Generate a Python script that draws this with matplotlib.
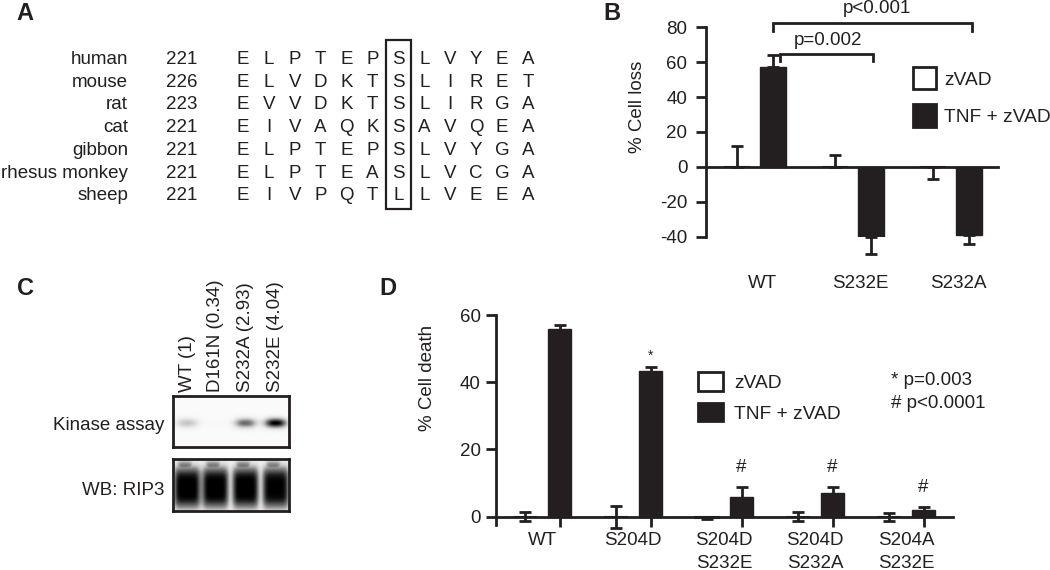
import numpy as np
import matplotlib
matplotlib.use('Agg')
import matplotlib.pyplot as plt
from matplotlib.patches import Rectangle

plt.rcParams['font.family'] = ['Liberation Sans', 'DejaVu Sans']
plt.rcParams['axes.unicode_minus'] = False

# ---------------- data ----------------
species = ['human', 'mouse', 'rat', 'cat', 'gibbon', 'rhesus monkey', 'sheep']
start_pos = [221, 226, 223, 221, 221, 221, 221]
sequences = ['ELPTEPSLVYEA', 'ELVDKTSLIRET', 'EVVDKTSLIRGA', 'EIVAQKSAVQEA',
             'ELPTEPSLVYGA', 'ELPTEASLVCGA', 'EIVPQTLLVEEA']
highlight_col = 6

b_groups = ['WT', 'S232E', 'S232A']
b_zvad = [0, 0, 0]
b_zvad_err_up = [12, 7, 0]
b_zvad_err_dn = [0, 0, 7]
b_tnf = [57.5, -40, -39.3]
b_tnf_err_up = [6.5, 0, 0]
b_tnf_err_dn = [0, 10, 4.7]
b_yticks = [-40, -20, 0, 20, 40, 60, 80]

lanes = ['WT (1)', 'D161N (0.34)', 'S232A (2.93)', 'S232E (4.04)']
kinase_signal = [0.30, 0.02, 0.62, 0.98]
rip3_signal = [0.92, 0.92, 0.92, 0.90]

d_groups = ['WT', 'S204D', 'S204D\nS232E', 'S204D\nS232A', 'S204A\nS232E']
d_zvad = [0, -0.2, -0.4, 0, -0.2]
d_zvad_err = [1.3, 3.3, 0.2, 1.4, 1.2]
d_tnf = [55.8, 43.4, 6.0, 7.0, 2.0]
d_tnf_err = [1.2, 1.1, 2.9, 1.9, 1.0]
d_marks = ['', '*', '#', '#', '#']
d_yticks = [0, 20, 40, 60]

INK = '#231f20'
FS = 13.5
W, H = 1050, 570
fig = plt.figure(figsize=(10.5, 5.7), dpi=100)


def fx(x):
    return x / W


def fy(y):
    return 1 - y / H


def T(x, yc, s, size=FS, ha='left', **kw):
    # place text so that cap-height centre sits at pixel yc
    base = yc + 0.36 * size * 100 / 72
    fig.text(fx(x), fy(base), s, ha=ha, va='baseline', fontsize=size, color=INK, **kw)


# panel letters
for lab, (x, y) in zip('ABCD', [(25, 11), (612, 11), (25, 287), (388, 287)]):
    T(x, y, lab, size=17, ha='center', fontweight='bold')

# ---------------- Panel A ----------------
row_y0, row_dy = 57.3, 22.7
col_x0, col_dx = 243, 25.9
for i, (sp, pos, seq) in enumerate(zip(species, start_pos, sequences)):
    y = row_y0 + i * row_dy
    T(128, y, sp, ha='right')
    T(166, y, str(pos))
    for j, ch in enumerate(seq):
        T(col_x0 + j * col_dx, y, ch, ha='center')
bx = col_x0 + highlight_col * col_dx
fig.patches.append(Rectangle((fx(bx - 12.5), fy(209)), 25 / W, 169 / H,
                             transform=fig.transFigure, fill=False,
                             edgecolor=INK, lw=1.6))

# ---------------- Panel B ----------------
axB = fig.add_axes([706 / W, 1 - 236.7 / H, 292 / W, 209.4 / H])
xb = np.arange(len(b_groups))
off, bw = 0.184, 0.265
axB.bar(xb - off, b_zvad, width=bw, color='white', edgecolor=INK, lw=1.5, zorder=2)
axB.bar(xb + off, b_tnf, width=bw, color=INK, edgecolor=INK, zorder=2)
for xs, v, dn, up in [(xb - off, b_zvad, b_zvad_err_dn, b_zvad_err_up),
                      (xb + off, b_tnf, b_tnf_err_dn, b_tnf_err_up)]:
    eb = axB.errorbar(xs, v, yerr=[dn, up], fmt='none', ecolor=INK,
                      elinewidth=2, capsize=4.3, capthick=2, zorder=3)
    for a in list(eb.lines[1]) + list(eb.lines[2]):
        a.set_clip_on(False)
axB.set_xlim(-0.5, 2.485)
axB.set_ylim(-40, 80)
axB.set_yticks(b_yticks)
axB.set_xticks([])
for s in ['top', 'right']:
    axB.spines[s].set_visible(False)
axB.spines['bottom'].set_position(('data', 0))
for s in ['bottom', 'left']:
    axB.spines[s].set_linewidth(2)
    axB.spines[s].set_color(INK)
axB.tick_params(axis='y', direction='out', length=7.5, width=2, pad=6,
                labelsize=FS, colors=INK)
axB.patch.set_visible(False)
for i, g in enumerate(b_groups):
    axB.text(i + 0.08, -0.225, g, transform=axB.get_xaxis_transform(),
             ha='center', va='center', fontsize=FS, color=INK)
T(637, 142, '% Cell loss', ha='center', rotation=90)
# brackets
brackets = [(0 + off + 0.07, 1 + off + 0.02, 64.7, 60.7, 'p=0.002', 0.745, 72.7),
            (0 + off, 2 + off + 0.04, 82.7, 78.0, 'p<0.001', 1.245, 90.8)]
for x0, x1, yt, yd, lab, tx, ty in brackets:
    axB.plot([x0, x0, x1, x1], [yd, yt, yt, yd], color=INK, lw=2,
             clip_on=False, solid_joinstyle='miter')
    axB.text(tx, ty, lab, ha='center', va='center', fontsize=FS, color=INK,
             clip_on=False)
# legend B
for (y0, y1, fc, lab) in [(67, 89, 'white', 'zVAD'), (104, 127, INK, 'TNF + zVAD')]:
    fig.patches.append(Rectangle((fx(913), fy(y1)), 23 / W, (y1 - y0) / H,
                                 transform=fig.transFigure, facecolor=fc,
                                 edgecolor=INK, lw=2))
    T(944, (y0 + y1) / 2, lab, size=13.8)

# ---------------- Panel C ----------------
lane_x = [187, 215, 245, 275]
for lx, lab in zip(lane_x, lanes):
    fig.text(fx(lx), fy(392), lab, rotation=90, ha='center', va='bottom',
             fontsize=FS, color=INK)
T(164, 423, 'Kinase assay', ha='right')
T(164, 488, 'WB: RIP3', ha='right')

xx = np.linspace(0, 1, 232)
yy = np.linspace(0, 1, 104)
X, Y = np.meshgrid(xx, yy)
lane_f = [(lx - 173) / 116 for lx in lane_x]

img_k = np.full_like(X, 0.04)
for lf, s in zip(lane_f, kinase_signal):
    img_k += s * np.exp(-(np.abs(X - lf) / 0.095) ** 2.5 - ((Y - 0.47) / 0.095) ** 2)
img_k = np.clip(img_k, 0, 1)
img_w = np.full_like(X, 0.10)
for lf, s in zip(lane_f, rip3_signal):
    core = np.exp(-(np.abs(X - lf) / 0.115) ** 6 - (np.abs(Y - 0.44) / 0.40) ** 4)
    top = 0.55 * np.exp(-(np.abs(X - lf + 0.02) / 0.07) ** 4 - (np.abs(Y - 0.86) / 0.1) ** 2)
    img_w += s * np.maximum(core, top)
img_w = np.clip(img_w, 0, 1)

for (y0, y1, img) in [(396, 447, img_k), (459, 511, img_w)]:
    ax = fig.add_axes([173 / W, 1 - y1 / H, 116 / W, (y1 - y0) / H])
    ax.imshow(img, cmap='Greys', vmin=0, vmax=1, origin='lower',
              extent=[0, 1, 0, 1], aspect='auto', interpolation='bilinear')
    ax.set_xticks([])
    ax.set_yticks([])
    for s in ax.spines.values():
        s.set_linewidth(2)
        s.set_color(INK)

# ---------------- Panel D ----------------
axD = fig.add_axes([496 / W, 1 - 525.1 / H, 456.7 / W, 210.1 / H])
xd = np.arange(len(d_groups))
doff, dbw = 0.19, 0.26
axD.bar(xd - doff, d_zvad, width=dbw, color='white', edgecolor=INK, lw=1.5, zorder=2)
axD.bar(xd + doff, d_tnf, width=dbw, color=INK, edgecolor=INK, zorder=2)
for xs, v, e in [(xd - doff, d_zvad, d_zvad_err), (xd + doff, d_tnf, d_tnf_err)]:
    eb = axD.errorbar(xs, v, yerr=e, fmt='none', ecolor=INK, elinewidth=2,
                      capsize=4.3, capthick=2, zorder=3)
    for a in list(eb.lines[1]) + list(eb.lines[2]):
        a.set_clip_on(False)
for i, m in enumerate(d_marks):
    if m:
        top = d_tnf[i] + d_tnf_err[i]
        if m == '*':
            axD.text(i + doff, top + 3.5, m, ha='center', va='center',
                     fontsize=10, color=INK)
        else:
            axD.text(i + doff, top + 5.6, m, ha='center', va='center',
                     fontsize=FS, color=INK)
axD.set_xlim(-0.509, 4.51)
axD.set_ylim(-2.5, 60)
axD.set_yticks(d_yticks)
axD.set_xticks(xd + doff)
axD.set_xticklabels([])
for s in ['top', 'right']:
    axD.spines[s].set_visible(False)
axD.spines['bottom'].set_position(('data', 0))
for s in ['bottom', 'left']:
    axD.spines[s].set_linewidth(2)
    axD.spines[s].set_color(INK)
axD.tick_params(direction='out', length=7, width=2, colors=INK, labelsize=FS)
axD.tick_params(axis='y', pad=4)
axD.patch.set_visible(False)
for i, g in enumerate(d_groups):
    axD.text(i, -0.035, g, transform=axD.get_xaxis_transform(), ha='center',
             va='top', fontsize=FS, color=INK, linespacing=1.4)
T(427, 420, '% Cell death', ha='center', rotation=90)
for (y0, y1, fc, lab) in [(372, 391, 'white', 'zVAD'), (403, 421, INK, 'TNF + zVAD')]:
    fig.patches.append(Rectangle((fx(698), fy(y1)), 25 / W, (y1 - y0) / H,
                                 transform=fig.transFigure, facecolor=fc,
                                 edgecolor=INK, lw=2))
    T(734, (y0 + y1) / 2, lab, size=13.8)
T(891, 378, '* p=0.003')
T(891, 401, '# p<0.0001')

fig.savefig('out.png', dpi=100)
